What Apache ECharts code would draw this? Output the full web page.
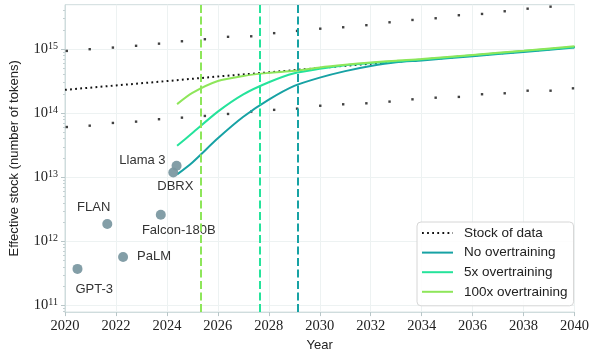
<!DOCTYPE html>
<html>
<head>
<meta charset="utf-8">
<script src="https://cdn.jsdelivr.net/npm/echarts@6/dist/echarts.min.js"></script>
<style>
  html, body { margin: 0; padding: 0; background: #ffffff; }
  #chart { width: 592px; height: 357px; }
</style>
</head>
<body>
<div id="chart"></div>
<script>
// ---- Axis ticks ----
const yearMin = 2020, yearMax = 2040, yearStep = 2;
const decadeExponents = [11, 12, 13, 14, 15];
const minorMultipliers = [2, 3, 4, 5, 6, 7, 8, 9];

// ---- Median estimate of the stock of data ----
const stockYears = [2020, 2022, 2024, 2026, 2028, 2030, 2032, 2034, 2036, 2038, 2040];
const stockMedian = [2.32e14, 2.72e14, 3.18e14, 3.75e14, 4.35e14, 5.1e14, 5.95e14, 6.85e14, 7.95e14, 9.25e14, 1.08e15];

// ---- Confidence bounds of the stock (sparse dots) ----
const boundYears = [2020.07, 2020.97, 2021.88, 2022.79, 2023.69, 2024.59, 2025.49, 2026.40,
  2027.31, 2028.21, 2029.11, 2030.02, 2030.92, 2031.83, 2032.74, 2033.64, 2034.55, 2035.46,
  2036.37, 2037.26, 2038.16, 2039.06, 2039.94];
const stockUpper = [9.4e14, 1.0e15, 1.06e15, 1.13e15, 1.22e15, 1.33e15, 1.43e15, 1.56e15,
  1.59e15, 1.78e15, 1.93e15, 2.09e15, 2.2e15, 2.37e15, 2.63e15, 2.86e15, 3.04e15, 3.39e15,
  3.55e15, 3.91e15, 4.29e15, 4.61e15];
const stockLower = [6.1e13, 6.4e13, 7.06e13, 7.4e13, 8.07e13, 8.54e13, 9.08e13, 9.75e13,
  1.06e14, 1.13e14, 1.18e14, 1.31e14, 1.38e14, 1.43e14, 1.52e14, 1.65e14, 1.75e14, 1.8e14,
  1.98e14, 2.05e14, 2.25e14, 2.25e14, 2.45e14];

// ---- Projected effective stock ----
const projYears = [2024.4, 2025, 2026, 2027, 2028, 2029, 2030, 2031, 2032, 2033, 2034, 2036, 2038, 2040];
const noOvertraining = [1.11e13, 1.71e13, 4.06e13, 8.8e13, 1.63e14, 2.67e14, 3.6e14, 4.55e14,
  5.47e14, 6.25e14, 6.67e14, 7.78e14, 9.07e14, 1.06e15];
const overtraining5x = [3.1e13, 4.91e13, 1.06e14, 1.97e14, 3.05e14, 4.21e14, 4.94e14, 5.62e14,
  6.11e14, 6.5e14, 6.88e14, 8.03e14, 9.34e14, 1.086e15];
const overtraining100x = [1.39e14, 2.08e14, 3.19e14, 3.82e14, 4.27e14, 4.6e14, 5.2e14, 5.72e14,
  6.2e14, 6.62e14, 7.0e14, 8.15e14, 9.48e14, 1.11e15];

// Year at which each projection reaches the median stock
const exhaustionYears = { none: 2029.12, x5: 2027.65, x100: 2025.33 };

// ---- Notable models ----
const modelNames = ['GPT-3', 'FLAN', 'PaLM', 'Falcon-180B', 'DBRX', 'Llama 3'];
const modelYears = [2020.49, 2021.66, 2022.28, 2023.76, 2024.25, 2024.38];
const modelTokens = [3.72e11, 1.87e12, 5.72e11, 2.61e12, 1.19e13, 1.52e13];

// ---- Styling ----
const SANS = 'Liberation Sans';
const SERIF = 'Liberation Serif';
const TEXT = '#222222';
const FRAME = '#cfdcdd';
const GRIDLINE = '#edf2f2';
const TEAL = '#17a2a4';
const GREEN = '#25e39b';
const LIME = '#8ee65a';
const MODEL = '#7896a0';
const Y_MIN = 7.87e10, Y_MAX = 4.95e15;

const labelPlacement = {
  'GPT-3':       { align: 'left',   offset: [-2, 21] },
  'FLAN':        { align: 'right',  offset: [3, -17] },
  'PaLM':        { align: 'left',   offset: [14, 0] },
  'Falcon-180B': { align: 'center', offset: [18, 16] },
  'DBRX':        { align: 'left',   offset: [-16, 14] },
  'Llama 3':     { align: 'right',  offset: [-11, -5] }
};

const majorTicks = decadeExponents.map(e => Math.pow(10, e));
const minorTicks = [];
[decadeExponents[0] - 1].concat(decadeExponents).forEach(e => {
  minorMultipliers.forEach(m => {
    const v = m * Math.pow(10, e);
    if (v > Y_MIN && v < Y_MAX) minorTicks.push(v);
  });
});

const pairs = (xs, ys) => ys.map((v, i) => [xs[i], v]);

function vline(year, color) {
  return {
    silent: true,
    symbol: ['none', 'none'],
    label: { show: false },
    emphasis: { disabled: true },
    lineStyle: { color: color, width: 2, type: [8, 3.5] },
    data: [{ xAxis: year }]
  };
}

function projection(name, values, color, year) {
  return {
    name: name,
    type: 'line',
    data: pairs(projYears, values),
    smooth: 0.25,
    symbol: 'none',
    lineStyle: { color: color, width: 2 },
    itemStyle: { color: color },
    z: 3,
    markLine: vline(year, color)
  };
}

const chart = echarts.init(document.getElementById('chart'), null, { renderer: 'canvas' });

chart.setOption({
  animation: false,
  backgroundColor: '#ffffff',
  grid: {
    left: 64, right: 13.5, top: 4.7, bottom: 44.3,
    show: true, borderColor: FRAME, borderWidth: 1, backgroundColor: 'transparent'
  },
  xAxis: {
    type: 'value',
    min: yearMin, max: yearMax, interval: yearStep,
    name: 'Year',
    nameLocation: 'middle',
    nameGap: 26,
    nameTextStyle: { fontFamily: SANS, fontSize: 13, color: TEXT },
    axisLine: { show: true, lineStyle: { color: FRAME, width: 1 } },
    axisTick: { show: true, length: 4, lineStyle: { color: '#b8c6c8' } },
    axisLabel: { fontFamily: SERIF, fontSize: 14.5, color: TEXT, margin: 7, formatter: v => String(v) },
    splitLine: { show: true, lineStyle: { color: GRIDLINE, width: 1 } }
  },
  yAxis: [
    {
      type: 'log',
      logBase: 10,
      min: Y_MIN, max: Y_MAX,
      name: 'Effective stock (number of tokens)',
      nameLocation: 'middle',
      nameGap: 44,
      nameTextStyle: { fontFamily: SANS, fontSize: 13, color: TEXT },
      axisLine: { show: true, lineStyle: { color: FRAME, width: 1 } },
      axisTick: { show: true, length: 4, customValues: majorTicks, lineStyle: { color: '#b8c6c8' } },
      axisLabel: {
        customValues: majorTicks,
        margin: 7,
        formatter: v => '{b|10}{s|' + Math.round(Math.log10(v)) + '}',
        rich: {
          b: { fontFamily: SERIF, fontSize: 14.5, color: TEXT, lineHeight: 16 },
          s: { fontFamily: SERIF, fontSize: 10, color: TEXT, lineHeight: 10, verticalAlign: 'top' }
        }
      },
      splitLine: { show: true, lineStyle: { color: GRIDLINE, width: 1 } }
    },
    {
      type: 'log',
      logBase: 10,
      min: Y_MIN, max: Y_MAX,
      position: 'left',
      axisLine: { show: false },
      axisTick: { show: true, length: 2, customValues: minorTicks, lineStyle: { color: '#c4d0d2' } },
      axisLabel: { show: false },
      splitLine: { show: false }
    }
  ],
  legend: {
    data: ['Stock of data', 'No overtraining', '5x overtraining', '100x overtraining'],
    orient: 'vertical',
    left: 417, top: 222,
    itemWidth: 31, itemHeight: 14, itemGap: 5.6,
    padding: [4, 6, 7, 4],
    borderColor: '#d6d6d6', borderWidth: 1, borderRadius: 4,
    backgroundColor: 'rgba(255,255,255,0.85)',
    selectedMode: false,
    itemStyle: { opacity: 0 },
    textStyle: { fontFamily: SANS, fontSize: 13.5, color: TEXT, padding: [0, 0, 0, 6] }
  },
  series: [
    {
      name: 'Stock of data',
      type: 'line',
      data: pairs(stockYears, stockMedian),
      symbol: 'none',
      lineStyle: { color: '#111111', width: 2, type: [1.8, 3.3] },
      itemStyle: { color: '#111111' },
      z: 2
    },
    {
      name: 'Upper bound',
      type: 'scatter',
      data: pairs(boundYears, stockUpper),
      symbol: 'rect', symbolSize: 2.4,
      itemStyle: { color: '#111111' },
      silent: true, z: 2
    },
    {
      name: 'Lower bound',
      type: 'scatter',
      data: pairs(boundYears, stockLower),
      symbol: 'rect', symbolSize: 2.4,
      itemStyle: { color: '#111111' },
      silent: true, z: 2
    },
    projection('No overtraining', noOvertraining, TEAL, exhaustionYears.none),
    projection('5x overtraining', overtraining5x, GREEN, exhaustionYears.x5),
    projection('100x overtraining', overtraining100x, LIME, exhaustionYears.x100),
    {
      name: 'Models',
      type: 'scatter',
      symbolSize: 10,
      itemStyle: { color: MODEL, opacity: 0.92 },
      z: 4,
      label: {
        show: true,
        position: 'inside',
        formatter: p => p.name,
        fontFamily: SANS, fontSize: 13, color: TEXT,
        textBorderWidth: 0,
        verticalAlign: 'middle'
      },
      data: modelNames.map((n, i) => ({
        name: n,
        value: [modelYears[i], modelTokens[i]],
        label: Object.assign({}, labelPlacement[n])
      }))
    }
  ]
});
</script>
</body>
</html>
